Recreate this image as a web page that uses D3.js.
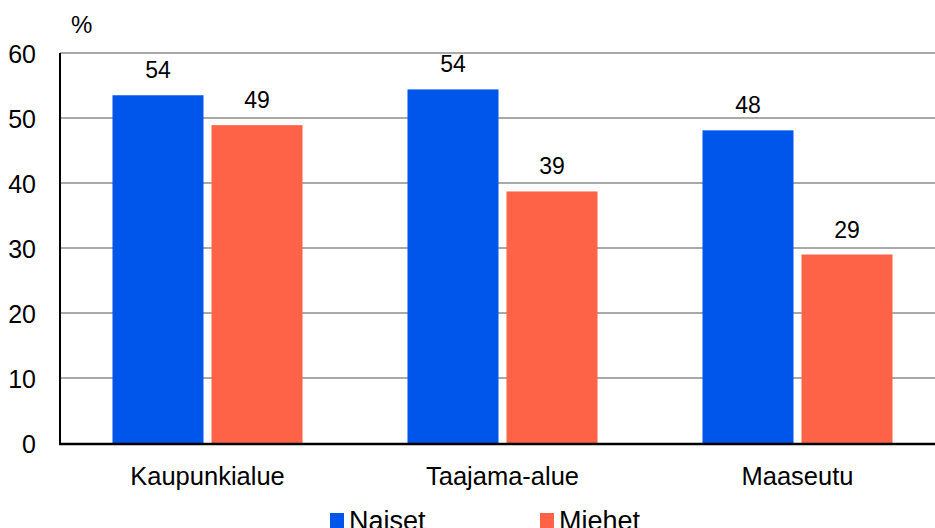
<!DOCTYPE html>
<html><head><meta charset="utf-8">
<script src="https://cdn.jsdelivr.net/npm/d3@7"></script>
<style>body{margin:0;background:#fff}svg{display:block}text{font-family:"Liberation Sans",Arial,sans-serif;fill:#000}</style>
</head><body><svg id="c" width="935" height="528"></svg>
<script>
const categories = ["Kaupunkialue","Taajama-alue","Maaseutu"];
const naiset = [53.5, 54.4, 48.1];
const miehet = [48.9, 38.7, 29.0];
const seriesNames = ["Naiset","Miehet"];
const colors = ["#0055EB","#FF6347"];
const yTicks = [0,10,20,30,40,50,60];

const svg = d3.select("#c");
const W = 935, H = 528;
const m = {l:60, t:53, r:-10, b:85};
const x = d3.scaleBand().domain(categories).range([m.l, W - m.r]).paddingInner(0).paddingOuter(0);
const y = d3.scaleLinear().domain([0,60]).range([H - m.b, m.t]);
const xs = d3.scaleBand().domain(seriesNames).range([0, x.bandwidth()]).paddingInner(0.081).paddingOuter(0.53);

// gridlines
svg.append("g").selectAll("line").data(yTicks.filter(d=>d>0)).join("line")
  .attr("x1", m.l).attr("x2", W).attr("y1", d=>y(d)).attr("y2", d=>y(d))
  .attr("stroke", "#8c8c8c").attr("stroke-width", 1.5);

// y tick labels via axis
const ya = svg.append("g").attr("transform", `translate(${m.l-24},0)`)
  .call(d3.axisLeft(y).tickValues(yTicks).tickSize(0).tickPadding(0));
ya.attr("font-size", null).attr("font-family", null);
ya.select(".domain").remove();
ya.selectAll("text").attr("font-size","25px").attr("fill","#000").attr("dy","0.36em");

svg.append("text").attr("x", 71).attr("y", 33).attr("font-size","24px").text("%");

const data = categories.map((c,i)=>({c, vals:[naiset[i], miehet[i]]}));
const g = svg.append("g").selectAll("g").data(data).join("g").attr("transform", d=>`translate(${x(d.c)},0)`);
g.selectAll("rect").data(d=>d.vals.map((v,j)=>({v,s:seriesNames[j],j}))).join("rect")
  .attr("x", d=>xs(d.s)).attr("width", xs.bandwidth())
  .attr("y", d=>y(d.v)).attr("height", d=>y(0)-y(d.v)).attr("fill", d=>colors[d.j]);
g.selectAll("text.v").data(d=>d.vals.map((v,j)=>({v,s:seriesNames[j]}))).join("text").attr("class","v")
  .attr("x", d=>xs(d.s)+xs.bandwidth()/2).attr("y", d=>y(d.v)-17).attr("text-anchor","middle")
  .attr("font-size","23px").text(d=>Math.round(d.v));

// axes lines
svg.append("line").attr("x1", m.l).attr("x2", m.l).attr("y1", m.t).attr("y2", y(0)+1).attr("stroke","#000").attr("stroke-width",2);
svg.append("line").attr("x1", m.l-1).attr("x2", W).attr("y1", y(0)+1).attr("y2", y(0)+1).attr("stroke","#000").attr("stroke-width",2.5);

// category labels
const xa = svg.append("g").attr("transform", `translate(0,${y(0)})`).call(d3.axisBottom(x).tickSize(0).tickPadding(0));
xa.attr("font-size", null).attr("font-family", null);
xa.select(".domain").remove();
xa.selectAll("text").attr("font-size","25.5px").attr("fill","#000").attr("dy", null).attr("y", 42);

// legend
const legX = [330, 540];
const lg = svg.append("g").selectAll("g").data(seriesNames).join("g").attr("transform",(d,i)=>`translate(${legX[i]},513)`);
lg.append("rect").attr("width",14).attr("height",15).attr("fill",(d,i)=>colors[i]);
lg.append("text").attr("x",19).attr("y",17).attr("font-size","27px").text(d=>d);
</script></body></html>
